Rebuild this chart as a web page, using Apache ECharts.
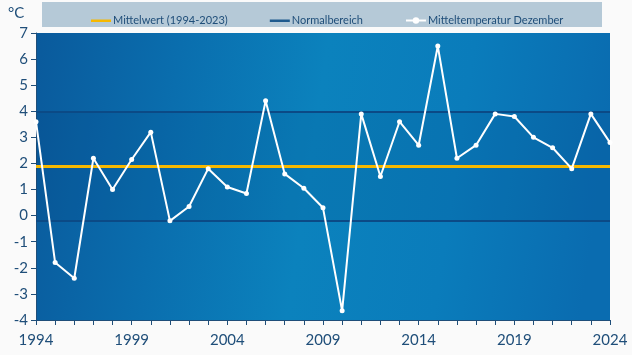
<!DOCTYPE html>
<html><head><meta charset="utf-8">
<script src="https://cdn.jsdelivr.net/npm/echarts@6/dist/echarts.min.js"></script>
<style>html,body{margin:0;padding:0;background:#fafafa;}#c{width:632px;height:355px;}</style>
</head><body><div id="c"></div>
<script>
const years = ['1994','1995','1996','1997','1998','1999','2000','2001','2002','2003','2004','2005','2006','2007','2008','2009','2010','2011','2012','2013','2014','2015','2016','2017','2018','2019','2020','2021','2022','2023','2024'];
const tempDec = [3.6,-1.8,-2.4,2.2,1.0,2.15,3.2,-0.2,0.35,1.8,1.1,0.85,4.4,1.6,1.05,0.3,-3.65,3.9,1.5,3.6,2.7,6.5,2.2,2.7,3.9,3.8,3.0,2.6,1.8,3.9,2.8];
const meanValue = 1.9;
const normalLow = -0.2;
const normalHigh = 4.0;
const yMin = -4, yMax = 7, yStep = 1;

const font = 'Lato';
const textColor = '#1f4e79';
const barIcon = 'path://M0 0 L0.01 0 L0.01 0.01 Z M0 3 L20 3 L20 5.5 L0 5.5 Z M0 8 L0.01 8 L0.01 7.99 Z';
const chart = echarts.init(document.getElementById('c'));
chart.setOption({
  animation: false,
  backgroundColor: '#fafafa',
  textStyle: {fontFamily: font},
  graphic: [
    {type: 'rect', shape: {x: 42, y: 2, width: 560, height: 25}, style: {fill: '#b5c9d7'}, z: -1},
    {type: 'text', left: 8, top: 6, style: {text: '°C', font: '15px ' + font, fill: textColor}}
  ],
  legend: {
    left: 86, top: 10, itemGap: 42, itemWidth: 20, itemHeight: 8,
    textStyle: {color: textColor, fontSize: 11, fontFamily: font, padding: [0, 0, 0, -3]},
    data: [
      {name: 'Mittelwert (1994-2023)', icon: barIcon, itemStyle: {color: '#f6b800'}},
      {name: 'Normalbereich', icon: barIcon, itemStyle: {color: '#1f5a8e'}},
      {name: 'Mitteltemperatur Dezember'}
    ]
  },
  grid: {
    left: 36, right: 22, top: 33, bottom: 35, show: true, borderWidth: 0,
    backgroundColor: new echarts.graphic.LinearGradient(0, 0, 1, 0.3, [
      {offset: 0, color: '#0a5a9c'},
      {offset: 0.25, color: '#0a6eae'},
      {offset: 0.5, color: '#0b82bd'},
      {offset: 0.75, color: '#0a7cbb'},
      {offset: 1, color: '#0a6cb0'}
    ])
  },
  xAxis: {
    type: 'category', data: years, boundaryGap: false,
    axisLine: {onZero: false, lineStyle: {color: textColor}},
    axisTick: {interval: 0, length: 5, lineStyle: {color: textColor}},
    axisLabel: {interval: 4, color: textColor, fontSize: 15, margin: 13, fontFamily: font},
    splitLine: {show: false}
  },
  yAxis: {
    type: 'value', min: yMin, max: yMax, interval: yStep,
    axisLine: {show: true, lineStyle: {color: textColor}},
    axisTick: {show: true, length: 5, lineStyle: {color: textColor}},
    axisLabel: {color: textColor, fontSize: 15, margin: 8, fontFamily: font},
    splitLine: {show: false}
  },
  series: [
    {
      name: 'Normalbereich', type: 'line', data: [], color: '#1f5a8e',
      markArea: {silent: true, itemStyle: {color: 'rgba(0,40,100,0.10)'}, data: [[{yAxis: normalLow}, {yAxis: normalHigh}]]},
      markLine: {silent: true, symbol: 'none', label: {show: false},
        lineStyle: {color: '#0b4a86', width: 2, type: 'solid'},
        data: [{yAxis: normalHigh}, {yAxis: normalLow}]}
    },
    {
      name: 'Mittelwert (1994-2023)', type: 'line', data: [], color: '#f6b800',
      markLine: {silent: true, symbol: 'none', label: {show: false},
        lineStyle: {color: '#f6b800', width: 3, type: 'solid'},
        data: [{yAxis: meanValue}]}
    },
    {
      name: 'Mitteltemperatur Dezember', type: 'line', data: tempDec,
      color: '#ffffff', symbol: 'circle', symbolSize: 5, showAllSymbol: true,
      lineStyle: {color: '#ffffff', width: 2}, itemStyle: {color: '#ffffff'}, z: 5
    }
  ]
});
</script></body></html>
